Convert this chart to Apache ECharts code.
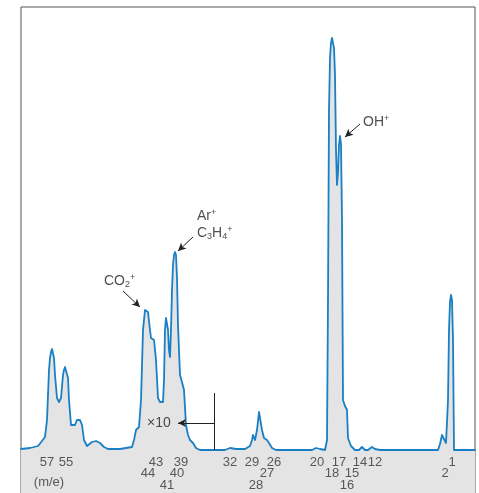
<!DOCTYPE html>
<html><head><meta charset="utf-8">
<script src="https://cdn.jsdelivr.net/npm/echarts@6/dist/echarts.min.js"></script>
<style>html,body{margin:0;padding:0;background:#fff}#c{width:479px;height:493px}</style>
</head><body><div id="c"></div>
<script>
// Spectrum trace: horizontal position (arbitrary units, m/e decreasing to the right) and intensity (arbitrary units)
const tracePos = [21,30,38,42,45,47,49,50,51,52,53,54,55,57,59,61,63,64,65,66,67,68,69,71,73,75,77,80,82,84,87,89,92,96,100,104,108,120,132,134,136,139,141,143,145,146,148,150,151,154,156,158,160,163,164,165,166,167,168,169,170,171,172,173,174,175,176,177,178,180,182,184,186,188,190,193,196,200,225,230,236,245,250,252,253,255,257,259,260,261,262,264,267,269,272,276,312,316,320,325,327,328,329,330,331,332,333,334,335,336,337,338,339,340,341,342,343,345,346,347,348,351,355,359,362,365,368,372,375,380,438,440,442,443,444,446,447,448,449,450,451,452,453,454,475];
const traceInt = [1,2,4,9,13,30,80,92,98,101,99,92,75,52,48,52,75,80,83,84,81,72,50,25,23,25,30,30,25,10,4,3,8,9,7,3,1,1,3,10,20,23,50,120,140,142,138,120,112,110,90,52,48,48,70,120,132,132,120,100,93,120,160,185,195,198,195,172,125,75,68,60,25,15,10,7,2,0,0,2,1,1,4,10,15,10,20,38,40,38,20,12,10,7,2,0,0,2,1,0,10,150,340,392,407,412,410,402,375,300,265,278,305,314,306,230,50,44,42,40,12,4,0,0,3,0,0,3,1,0,0,6,15,17,15,7,7,50,120,148,155,150,110,0,0];

// m/e tick labels in three rows
const row1Labels = ['57','55','43','39','32','29','26','20','17','14','12','1'];
const row1Pos    = [47,66,156,181,230,252,274,317,339,360,375,452];
const row2Labels = ['44','40','27','18','15','2'];
const row2Pos    = [148,177,267,332,352,445];
const row3Labels = ['41','28','16'];
const row3Pos    = [167,256,347];
const unitLabel = '(m/e)';

// Peak annotations
const annotations = [
  {text: '{n|CO}{sub|2}{sup|+}', at: [104, 169]},
  {text: '{n|Ar}{sup|+}', at: [197, 234]},
  {text: '{n|C}{sub|3}{n|H}{sub|4}{sup|+}', at: [197, 217]},
  {text: '{n|OH}{sup|+}', at: [363, 328]},
  {text: '{n|×10}', at: [147, 27]}
];
const arrows = [
  [[123,159],[140,143]],
  [[193,213],[178,199]],
  [[360,326],[345,313]],
  [[214,27],[178,27]]
];
const bracket = [[214,57],[214,0]];

const traceData = tracePos.map((x,i)=>[x, traceInt[i]]);
const ROW_Y = [-12,-23,-35];
const tickData = [];
row1Labels.forEach((t,i)=>tickData.push({name:t, value:[row1Pos[i], ROW_Y[0]]}));
row2Labels.forEach((t,i)=>tickData.push({name:t, value:[row2Pos[i], ROW_Y[1]]}));
row3Labels.forEach((t,i)=>tickData.push({name:t, value:[row3Pos[i], ROW_Y[2]]}));
tickData.push({name:unitLabel, value:[49, -32]});

const FONT = '"Liberation Sans", Arial, sans-serif';
const rich = {
  n:{fontSize:14, color:'#222', fontFamily:FONT, lineHeight:16},
  sub:{fontSize:9, color:'#222', fontFamily:FONT, verticalAlign:'bottom', lineHeight:16, padding:[5,0,0,0]},
  sup:{fontSize:9, color:'#222', fontFamily:FONT, verticalAlign:'top', lineHeight:16, padding:[0,0,6,0]}
};

const chart = echarts.init(document.getElementById('c'), null, {renderer:'canvas'});
chart.setOption({
  animation:false,
  grid:{left:21, right:4, top:7, bottom:0, show:true, borderColor:'#555', borderWidth:1, backgroundColor:'transparent'},
  xAxis:{type:'value', min:21, max:475, show:false},
  yAxis:{type:'value', min:-43, max:443, show:false},
  series:[
    {
      type:'line', data:traceData, showSymbol:false, smooth:false,
      lineStyle:{width:0, opacity:0},
      areaStyle:{color:'#e4e4e4', origin:'start', opacity:1},
      z:1
    },
    {
      type:'line', data:traceData, showSymbol:false, smooth:false,
      lineStyle:{color:'#1b7fc4', width:1.8, join:'round', cap:'round'},
      z:3
    },
    {
      type:'scatter', data:tickData, symbolSize:0, z:5,
      label:{show:true, position:'inside', formatter:p=>p.name, color:'#333', fontSize:13, fontFamily:FONT}
    },
    {
      type:'scatter', data:annotations.map(a=>({value:a.at, name:a.text})), symbolSize:0, z:5,
      label:{show:true, position:'inside', align:'left', verticalAlign:'middle', formatter:p=>p.name, rich:rich}
    },
    {
      type:'line', data:[], z:4,
      markLine:{
        silent:true, symbol:['none','arrow'], symbolSize:[6,8], label:{show:false},
        lineStyle:{color:'#222', width:1, type:'solid'},
        data: arrows.map(a=>[{coord:a[0]},{coord:a[1]}]).concat([[{coord:bracket[0], symbol:'none'},{coord:bracket[1], symbol:'none'}]])
      }
    }
  ]
});
</script></body></html>
